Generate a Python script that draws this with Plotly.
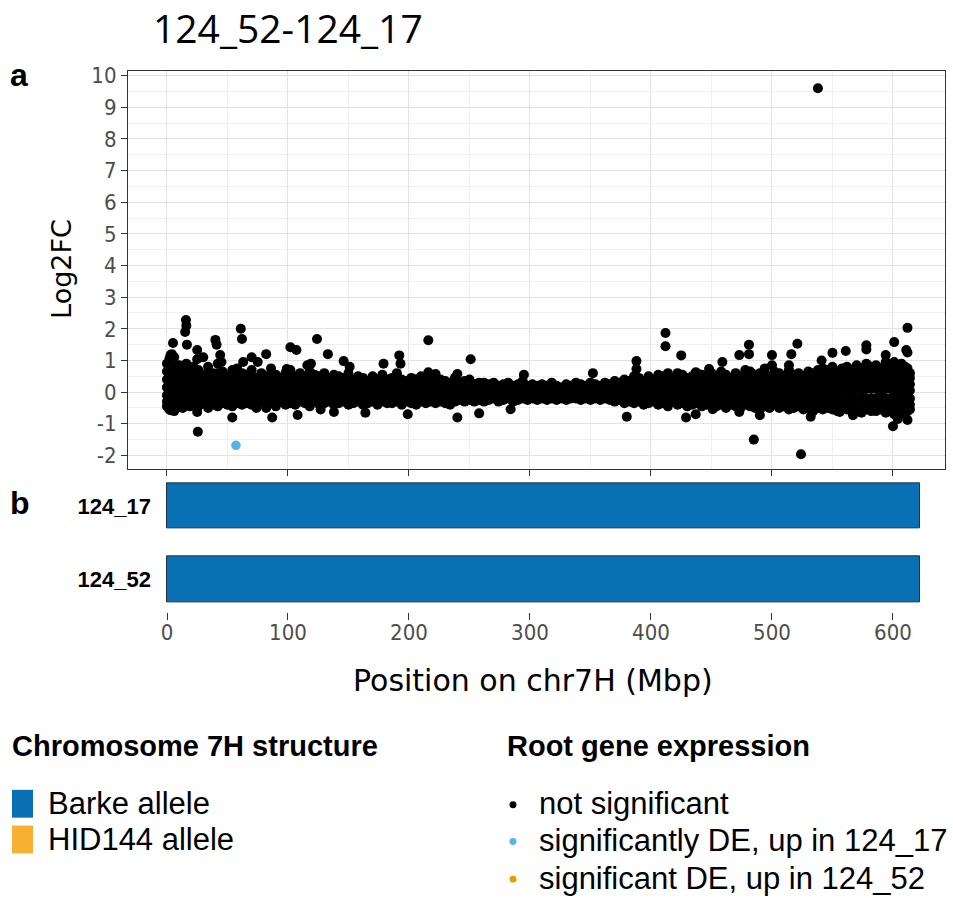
import plotly.graph_objects as go

W, H = 953, 898

title_text = "124_52-124_17"

# ---- panel a: Log2FC of root genes along chr7H (Mbp) ----
# dense core of the cloud: positions with seven rows of values from the top edge to the bottom edge
pos = [0, 2, 4, 6, 8, 10, 13, 16, 19, 22,
       26, 30, 34, 38, 42, 46, 50, 54, 58, 62,
       66, 70, 74, 78, 82, 86, 90, 94, 98, 102,
       106, 110, 114, 118, 122, 126, 130, 134, 138, 142,
       146, 150, 154, 158, 162, 166, 170, 174, 178, 182,
       186, 190, 194, 198, 202, 206, 210, 214, 218, 222,
       226, 230, 234, 238, 242, 246, 250, 254, 258, 262,
       266, 270, 274, 278, 282, 286, 290, 294, 298, 302,
       306, 310, 314, 318, 322, 326, 330, 334, 338, 342,
       346, 350, 354, 358, 362, 366, 370, 374, 378, 382,
       386, 390, 394, 398, 402, 406, 410, 414, 418, 422,
       426, 430, 434, 438, 442, 446, 450, 454, 458, 462,
       466, 470, 474, 478, 482, 486, 490, 494, 498, 502,
       506, 510, 514, 518, 522, 526, 530, 534, 538, 542,
       546, 550, 554, 558, 562, 566, 570, 574, 578, 582,
       586, 590, 594, 598, 601, 604, 607, 610, 612, 614]

lfc_top = [0.9, 1.05, 0.8, 1.1, 0.7, 0.85, 0.75, 0.9, 0.6, 0.8,
           0.7, 0.55, 0.8, 0.6, 0.9, 0.65, 0.5, 0.7, 0.75, 0.6,
           0.55, 0.7, 0.45, 0.6, 0.5, 0.75, 0.55, 0.45, 0.6, 0.7,
           0.5, 0.6, 0.45, 0.65, 0.55, 0.5, 0.6, 0.45, 0.55, 0.5,
           0.45, 0.6, 0.4, 0.5, 0.45, 0.35, 0.5, 0.4, 0.55, 0.4,
           0.45, 0.6, 0.4, 0.35, 0.45, 0.4, 0.5, 0.35, 0.45, 0.3,
           0.4, 0.35, 0.3, 0.45, 0.3, 0.35, 0.4, 0.25, 0.3, 0.3,
           0.25, 0.3, 0.2, 0.25, 0.3, 0.2, 0.25, 0.35, 0.2, 0.25,
           0.2, 0.25, 0.2, 0.3, 0.2, 0.15, 0.25, 0.2, 0.3, 0.25,
           0.2, 0.3, 0.25, 0.2, 0.3, 0.25, 0.35, 0.3, 0.4, 0.35,
           0.5, 0.45, 0.35, 0.5, 0.4, 0.55, 0.5, 0.6, 0.45, 0.6,
           0.55, 0.45, 0.5, 0.6, 0.55, 0.45, 0.6, 0.5, 0.65, 0.55,
           0.45, 0.6, 0.5, 0.7, 0.65, 0.55, 0.6, 0.75, 0.5, 0.65,
           0.6, 0.5, 0.7, 0.55, 0.6, 0.5, 0.65, 0.6, 0.7, 0.75,
           0.7, 0.8, 0.65, 0.75, 0.8, 0.7, 0.85, 0.75, 0.9, 0.8,
           0.85, 0.75, 0.9, 0.8, 0.95, 0.85, 0.9, 0.8, 0.75, 0.6]

lfc_high = [0.65, 0.75, 0.55, 0.8, 0.55, 0.6, 0.6, 0.65, 0.45, 0.55,
            0.5, 0.4, 0.6, 0.45, 0.6, 0.45, 0.35, 0.5, 0.5, 0.4,
            0.4, 0.5, 0.3, 0.4, 0.35, 0.5, 0.4, 0.3, 0.4, 0.5,
            0.35, 0.4, 0.3, 0.45, 0.4, 0.35, 0.4, 0.3, 0.4, 0.35,
            0.3, 0.4, 0.3, 0.35, 0.3, 0.25, 0.35, 0.3, 0.4, 0.3,
            0.3, 0.4, 0.3, 0.25, 0.3, 0.3, 0.35, 0.25, 0.3, 0.2,
            0.3, 0.25, 0.2, 0.3, 0.2, 0.25, 0.3, 0.2, 0.2, 0.2,
            0.2, 0.2, 0.15, 0.2, 0.2, 0.15, 0.2, 0.25, 0.15, 0.2,
            0.15, 0.2, 0.15, 0.2, 0.15, 0.1, 0.2, 0.15, 0.2, 0.2,
            0.15, 0.2, 0.2, 0.15, 0.2, 0.2, 0.25, 0.2, 0.3, 0.25,
            0.35, 0.3, 0.25, 0.35, 0.3, 0.4, 0.35, 0.4, 0.3, 0.4,
            0.4, 0.3, 0.35, 0.4, 0.4, 0.3, 0.4, 0.35, 0.45, 0.4,
            0.3, 0.4, 0.35, 0.5, 0.45, 0.4, 0.4, 0.5, 0.35, 0.45,
            0.4, 0.35, 0.5, 0.4, 0.4, 0.35, 0.45, 0.4, 0.5, 0.55,
            0.5, 0.55, 0.45, 0.55, 0.55, 0.5, 0.6, 0.55, 0.65, 0.55,
            0.6, 0.55, 0.65, 0.55, 0.65, 0.6, 0.65, 0.55, 0.55, 0.45]

lfc_upper = [0.4, 0.5, 0.3, 0.45, 0.35, 0.3, 0.4, 0.35, 0.25, 0.3,
             0.3, 0.2, 0.35, 0.25, 0.3, 0.25, 0.2, 0.3, 0.25, 0.2,
             0.2, 0.25, 0.15, 0.2, 0.2, 0.25, 0.2, 0.15, 0.2, 0.25,
             0.2, 0.2, 0.15, 0.25, 0.2, 0.2, 0.2, 0.15, 0.2, 0.15,
             0.15, 0.2, 0.15, 0.2, 0.15, 0.15, 0.2, 0.15, 0.2, 0.15,
             0.15, 0.2, 0.15, 0.15, 0.15, 0.15, 0.2, 0.1, 0.15, 0.1,
             0.15, 0.1, 0.1, 0.15, 0.1, 0.1, 0.15, 0.1, 0.1, 0.1,
             0.1, 0.1, 0.05, 0.1, 0.1, 0.05, 0.1, 0.1, 0.05, 0.1,
             0.05, 0.1, 0.05, 0.1, 0.05, 0.05, 0.1, 0.05, 0.1, 0.1,
             0.05, 0.1, 0.1, 0.05, 0.1, 0.1, 0.1, 0.1, 0.15, 0.1,
             0.2, 0.15, 0.1, 0.2, 0.15, 0.2, 0.15, 0.2, 0.15, 0.2,
             0.2, 0.15, 0.2, 0.2, 0.2, 0.15, 0.2, 0.2, 0.25, 0.2,
             0.15, 0.2, 0.2, 0.25, 0.2, 0.2, 0.2, 0.25, 0.2, 0.25,
             0.2, 0.2, 0.25, 0.2, 0.2, 0.2, 0.25, 0.2, 0.25, 0.3,
             0.25, 0.3, 0.25, 0.3, 0.3, 0.25, 0.3, 0.3, 0.35, 0.3,
             0.3, 0.3, 0.35, 0.3, 0.35, 0.3, 0.35, 0.3, 0.3, 0.25]

lfc_center = [0.15, 0.2, 0.1, 0.2, 0.1, 0.1, 0.15, 0.1, 0.05, 0.1,
              0.1, 0.05, 0.15, 0.05, 0.1, 0.05, 0.05, 0.1, 0.05, 0.05,
              0.05, 0.1, 0.0, 0.05, 0.05, 0.1, 0.05, 0.0, 0.05, 0.1,
              0.05, 0.05, 0.0, 0.1, 0.05, 0.05, 0.05, 0.0, 0.05, 0.0,
              0.05, 0.05, 0.0, 0.05, 0.05, 0.0, 0.05, 0.0, 0.05, 0.0,
              0.05, 0.05, 0.0, 0.05, 0.0, 0.05, 0.05, 0.0, 0.05, 0.0,
              0.05, 0.0, 0.0, 0.05, 0.0, 0.0, 0.05, 0.0, 0.0, 0.05,
              0.0, 0.05, 0.0, 0.0, 0.0, 0.0, 0.05, 0.0, 0.0, 0.0,
              0.0, 0.0, 0.0, 0.05, 0.0, 0.0, 0.0, 0.0, 0.05, 0.0,
              0.0, 0.05, 0.0, 0.0, 0.05, 0.0, 0.05, 0.0, 0.05, 0.05,
              0.05, 0.05, 0.0, 0.05, 0.05, 0.05, 0.05, 0.05, 0.0, 0.05,
              0.05, 0.0, 0.05, 0.05, 0.05, 0.0, 0.05, 0.05, 0.1, 0.05,
              0.0, 0.05, 0.05, 0.1, 0.05, 0.05, 0.05, 0.1, 0.05, 0.1,
              0.05, 0.05, 0.1, 0.05, 0.05, 0.05, 0.1, 0.05, 0.1, 0.1,
              0.05, 0.1, 0.05, 0.1, 0.1, 0.05, 0.1, 0.1, 0.1, 0.1,
              0.1, 0.05, 0.1, 0.1, 0.1, 0.05, 0.1, 0.1, 0.05, 0.05]

lfc_lower = [-0.1, -0.05, -0.15, 0.0, -0.1, -0.1, -0.05, -0.1, -0.1, -0.05,
             -0.1, -0.1, -0.05, -0.1, -0.05, -0.1, -0.1, -0.05, -0.1, -0.1,
             -0.1, -0.05, -0.1, -0.1, -0.05, -0.1, -0.1, -0.05, -0.1, -0.05,
             -0.1, -0.05, -0.1, -0.05, -0.1, -0.1, -0.05, -0.1, -0.05, -0.1,
             -0.05, -0.1, -0.05, -0.1, -0.05, -0.1, -0.05, -0.1, -0.05, -0.1,
             -0.05, -0.05, -0.1, -0.05, -0.1, -0.05, -0.05, -0.1, -0.05, -0.05,
             -0.05, -0.1, -0.05, -0.05, -0.05, -0.1, -0.05, -0.05, -0.05, -0.05,
             -0.05, -0.05, -0.05, -0.05, -0.1, -0.05, -0.05, -0.05, -0.05, -0.05,
             -0.05, -0.05, -0.1, -0.05, -0.05, -0.05, -0.05, -0.05, -0.05, -0.05,
             -0.05, -0.05, -0.05, -0.05, -0.05, -0.05, -0.05, -0.05, -0.1, -0.05,
             -0.1, -0.1, -0.05, -0.1, -0.1, -0.1, -0.05, -0.1, -0.1, -0.1,
             -0.1, -0.1, -0.1, -0.15, -0.1, -0.1, -0.1, -0.15, -0.1, -0.1,
             -0.1, -0.15, -0.1, -0.1, -0.15, -0.1, -0.15, -0.1, -0.15, -0.1,
             -0.15, -0.1, -0.15, -0.15, -0.1, -0.15, -0.15, -0.1, -0.15, -0.15,
             -0.15, -0.2, -0.15, -0.15, -0.2, -0.15, -0.2, -0.15, -0.2, -0.2,
             -0.2, -0.15, -0.2, -0.2, -0.15, -0.2, -0.2, -0.15, -0.2, -0.2]

lfc_low = [-0.3, -0.35, -0.3, -0.35, -0.3, -0.3, -0.3, -0.25, -0.3, -0.25,
           -0.3, -0.25, -0.3, -0.25, -0.3, -0.25, -0.25, -0.3, -0.25, -0.25,
           -0.25, -0.25, -0.3, -0.2, -0.25, -0.25, -0.3, -0.2, -0.25, -0.2,
           -0.25, -0.2, -0.25, -0.3, -0.2, -0.25, -0.2, -0.2, -0.25, -0.25,
           -0.2, -0.25, -0.2, -0.2, -0.25, -0.25, -0.2, -0.25, -0.2, -0.25,
           -0.2, -0.2, -0.25, -0.2, -0.25, -0.25, -0.2, -0.25, -0.2, -0.2,
           -0.2, -0.25, -0.25, -0.2, -0.15, -0.2, -0.15, -0.2, -0.15, -0.2,
           -0.15, -0.15, -0.2, -0.15, -0.15, -0.2, -0.15, -0.15, -0.15, -0.15,
           -0.15, -0.15, -0.2, -0.15, -0.15, -0.15, -0.15, -0.15, -0.15, -0.15,
           -0.15, -0.15, -0.15, -0.15, -0.15, -0.15, -0.2, -0.15, -0.25, -0.2,
           -0.25, -0.2, -0.25, -0.25, -0.2, -0.25, -0.2, -0.3, -0.2, -0.25,
           -0.25, -0.3, -0.25, -0.25, -0.3, -0.25, -0.25, -0.3, -0.25, -0.3,
           -0.25, -0.3, -0.3, -0.25, -0.3, -0.3, -0.35, -0.3, -0.35, -0.25,
           -0.35, -0.3, -0.35, -0.35, -0.3, -0.35, -0.35, -0.35, -0.35, -0.35,
           -0.35, -0.4, -0.4, -0.35, -0.4, -0.4, -0.4, -0.45, -0.4, -0.4,
           -0.4, -0.35, -0.45, -0.4, -0.45, -0.4, -0.45, -0.45, -0.4, -0.4]

lfc_bottom = [-0.45, -0.55, -0.4, -0.6, -0.5, -0.45, -0.5, -0.35, -0.45, -0.4,
              -0.45, -0.35, -0.5, -0.4, -0.45, -0.35, -0.4, -0.45, -0.35, -0.4,
              -0.35, -0.4, -0.45, -0.3, -0.4, -0.35, -0.45, -0.3, -0.4, -0.35,
              -0.4, -0.3, -0.35, -0.45, -0.3, -0.4, -0.35, -0.3, -0.4, -0.35,
              -0.3, -0.4, -0.35, -0.3, -0.4, -0.35, -0.3, -0.4, -0.3, -0.35,
              -0.35, -0.3, -0.4, -0.3, -0.35, -0.4, -0.3, -0.35, -0.3, -0.35,
              -0.3, -0.35, -0.4, -0.3, -0.25, -0.3, -0.25, -0.3, -0.25, -0.3,
              -0.25, -0.2, -0.3, -0.25, -0.2, -0.3, -0.25, -0.2, -0.25, -0.2,
              -0.25, -0.2, -0.25, -0.2, -0.25, -0.2, -0.25, -0.2, -0.2, -0.25,
              -0.2, -0.25, -0.2, -0.25, -0.2, -0.25, -0.3, -0.25, -0.35, -0.3,
              -0.35, -0.3, -0.4, -0.35, -0.3, -0.4, -0.35, -0.45, -0.3, -0.4,
              -0.35, -0.45, -0.4, -0.35, -0.45, -0.4, -0.35, -0.45, -0.4, -0.5,
              -0.4, -0.45, -0.5, -0.4, -0.45, -0.5, -0.55, -0.45, -0.5, -0.4,
              -0.5, -0.45, -0.55, -0.5, -0.45, -0.55, -0.5, -0.6, -0.5, -0.55,
              -0.5, -0.55, -0.6, -0.5, -0.55, -0.6, -0.55, -0.65, -0.55, -0.6,
              -0.6, -0.55, -0.65, -0.6, -0.7, -0.6, -0.65, -0.7, -0.6, -0.55]

# scattered points outside the core (not significant)
edge_pos = [15.7, 16, 15, 16.5, 5, 3, 4, 40, 41, 61, 62, 25, 25, 30, 44, 45, 63, 70, 75,
            25.5, 54, 25, 3, 74, 82, 82, 87, 99, 102, 107, 108, 116, 119, 124, 127,
            133, 138, 146, 151, 164, 179, 192, 193, 199, 216, 216, 222, 240, 240,
            251, 258, 284, 295, 352, 380, 388, 388, 412, 412, 425, 429, 437, 437,
            448, 451, 459, 473, 473, 481, 481, 485, 490, 500, 500, 514, 516, 521,
            524, 532, 538, 541, 550, 556, 561, 567, 578, 578, 594, 594, 600, 601,
            603, 604, 611, 612, 612, 612]
edge_lfc = [2.28, 2.1, 1.9, 1.5, 1.55, 1.17, 1.2, 1.65, 1.5, 2.0, 1.68, 1.33, 1.04, 1.1, 1.17, 0.95, 0.95, 1.1, 0.95,
            -1.25, -0.8, -0.63, -0.57, -0.5, -0.5, 1.2, -0.8, 0.73, 1.42, 1.33, -0.72, 0.85, 0.9, 1.68, -0.55,
            1.2, -0.63, 0.98, 0.8, -0.65, 0.9, 1.16, 0.9, -0.7, 1.64, 0.63, 0.57, -0.8, 0.57,
            1.04, -0.67, -0.54, 0.55, 0.6, -0.78, 0.98, 0.73, 1.87, 1.45, 1.16, -0.8, -0.7, 0.63,
            0.73, -0.54, 0.95, 1.17, -0.63, 1.5, 1.2, -1.5, -0.73, 1.17, 0.85, 0.85, 1.2, 1.53,
            -1.96, -0.78, 9.6, 1.0, 1.24, -0.63, 1.3, -0.73, 1.48, 1.35, 1.17, 0.95, -1.08, 1.58,
            0.73, -0.85, 1.33, 2.03, 1.25, -0.88]

# significantly DE genes
up17_pos = [57]
up17_lfc = [-1.68]
up52_pos = []
up52_lfc = []

y_ticks = [-2, -1, 0, 1, 2, 3, 4, 5, 6, 7, 8, 9, 10]
y_tick_text = ["-2", "-1", "0", "1", "2", "3", "4", "5", "6", "7", "8", "9", "10"]
x_ticks = [0, 100, 200, 300, 400, 500, 600]

# ---- panel b: chromosome structure ----
lines = ["124_52", "124_17"]
seg_start = [0, 0]
seg_end = [622, 622]
seg_allele = ["Barke allele", "Barke allele"]

allele_colors = {"Barke allele": "#0A70B4", "HID144 allele": "#F7B032"}
sig_colors = {"not significant": "#000000",
              "significantly DE, up in 124_17": "#56B4E9",
              "significant DE, up in 124_52": "#E69F00"}

# ---- geometry helpers (pixel -> paper) ----
def fx(px):
    return px / W

def fy(py):
    return 1 - py / H

xa_range = [-32.2, 643.0]
xb_left_px = 152
xb_range = [-(167 - xb_left_px) / 1.21, 643.0]

fig = go.Figure()

core_x = pos * 7
core_y = lfc_top + lfc_high + lfc_upper + lfc_center + lfc_lower + lfc_low + lfc_bottom
fig.add_trace(go.Scatter(
    x=core_x + edge_pos, y=core_y + edge_lfc, mode="markers",
    marker=dict(color=sig_colors["not significant"], size=10, line=dict(width=0)),
    xaxis="x", yaxis="y", showlegend=False, hoverinfo="x+y"))
fig.add_trace(go.Scatter(
    x=up17_pos, y=up17_lfc, mode="markers",
    marker=dict(color=sig_colors["significantly DE, up in 124_17"], size=9.5, line=dict(width=0)),
    xaxis="x", yaxis="y", showlegend=False))
fig.add_trace(go.Scatter(
    x=up52_pos, y=up52_lfc, mode="markers",
    marker=dict(color=sig_colors["significant DE, up in 124_52"], size=9.5, line=dict(width=0)),
    xaxis="x", yaxis="y", showlegend=False))

fig.add_trace(go.Bar(
    y=lines, x=[e - s for s, e in zip(seg_start, seg_end)], base=seg_start,
    orientation="h", width=0.62,
    marker=dict(color=[allele_colors[a] for a in seg_allele],
                line=dict(color="#1F2F3F", width=1)),
    xaxis="x2", yaxis="y2", showlegend=False))

tick_font = dict(family="DejaVu Sans Condensed, DejaVu Sans", size=22, color="#4D4D4D")

fig.update_layout(
    width=W, height=H, margin=dict(l=0, r=0, t=0, b=0),
    paper_bgcolor="white", plot_bgcolor="white",
    xaxis=dict(domain=[fx(128), fx(945)], range=xa_range, tickmode="array", tickvals=x_ticks,
               showticklabels=False, ticks="outside", ticklen=6, tickcolor="#333333",
               showgrid=True, gridcolor="#E3E3E3", gridwidth=1.4, zeroline=False,
               showline=True, linecolor="#333333", linewidth=1.2, mirror=True,
               minor=dict(dtick=50, tick0=0, showgrid=True, gridcolor="#F0F0F0", gridwidth=0.8),
               anchor="y"),
    yaxis=dict(domain=[fy(466), fy(64)], range=[-2.44, 10.16], tickmode="array",
               tickvals=y_ticks, ticktext=y_tick_text,
               ticks="outside", ticklen=6, tickcolor="#333333", tickfont=tick_font,
               showgrid=True, gridcolor="#E3E3E3", gridwidth=1.4, zeroline=False,
               showline=True, linecolor="#333333", linewidth=1.2, mirror=True,
               minor=dict(dtick=0.5, tick0=0, showgrid=True, gridcolor="#F0F0F0", gridwidth=0.8),
               anchor="x"),
    xaxis2=dict(domain=[fx(xb_left_px), fx(945)], range=xb_range, tickmode="array", tickvals=x_ticks,
                ticks="outside", ticklen=7, tickcolor="#333333", tickfont=tick_font,
                ticklabelstandoff=-7,
                showgrid=False, zeroline=False, showline=False, anchor="y2"),
    yaxis2=dict(domain=[fy(610), fy(468)], range=[-0.446, 1.473], type="category",
                categoryorder="array", categoryarray=lines,
                tickmode="array", tickvals=lines,
                ticktext=["<b>" + l + "</b>" for l in lines],
                tickfont=dict(family="Liberation Sans Narrow, Liberation Sans", size=22, color="#000000"),
                ticks="", showgrid=False, zeroline=False, showline=False, anchor="x2"),
    bargap=0,
)

ann = []

def add_text(px, py, text, font, xanchor="left", angle=0):
    ann.append(dict(x=fx(px), y=fy(py), xref="paper", yref="paper", text=text,
                    showarrow=False, xanchor=xanchor, yanchor="middle",
                    textangle=angle, font=font))

add_text(288, 21, title_text, dict(family="Open Sans", size=39, color="#000000"), xanchor="center")
add_text(8, 69, "<b>a</b>", dict(family="Liberation Sans", size=32, color="#000000"))
add_text(8, 500, "<b>b</b>", dict(family="Liberation Sans", size=32, color="#000000"))
add_text(62, 264, "Log2FC", dict(family="DejaVu Sans", size=27, color="#000000"), xanchor="center", angle=-90)
add_text(533, 679, "Position on chr7H (Mbp)",
         dict(family="DejaVu Sans", size=30, color="#000000"), xanchor="center")

leg_title_font = dict(family="Liberation Sans", size=29, color="#000000")
leg_font = dict(family="Liberation Sans", size=31, color="#000000")
add_text(10, 745, "<b>Chromosome 7H structure</b>", leg_title_font)
add_text(505, 745, "<b>Root gene expression</b>", leg_title_font)

shapes = []
allele_rows = [("Barke allele", 803), ("HID144 allele", 839)]
for name, yc in allele_rows:
    shapes.append(dict(type="rect", xref="paper", yref="paper",
                       x0=fx(12), x1=fx(33), y0=fy(yc - 14), y1=fy(yc + 14),
                       fillcolor=allele_colors[name], line=dict(width=0)))
    add_text(46, yc, name, leg_font)

sig_rows = [("not significant", 803), ("significantly DE, up in 124_17", 840),
            ("significant DE, up in 124_52", 878)]
for name, yc in sig_rows:
    shapes.append(dict(type="circle", xref="paper", yref="paper",
                       x0=fx(509.5), x1=fx(516.5), y0=fy(yc + 4.5), y1=fy(yc - 2.5),
                       fillcolor=sig_colors[name], line=dict(width=0)))
    add_text(537, yc, name, leg_font)

fig.update_layout(annotations=ann, shapes=shapes)

fig.write_html("out.html")
